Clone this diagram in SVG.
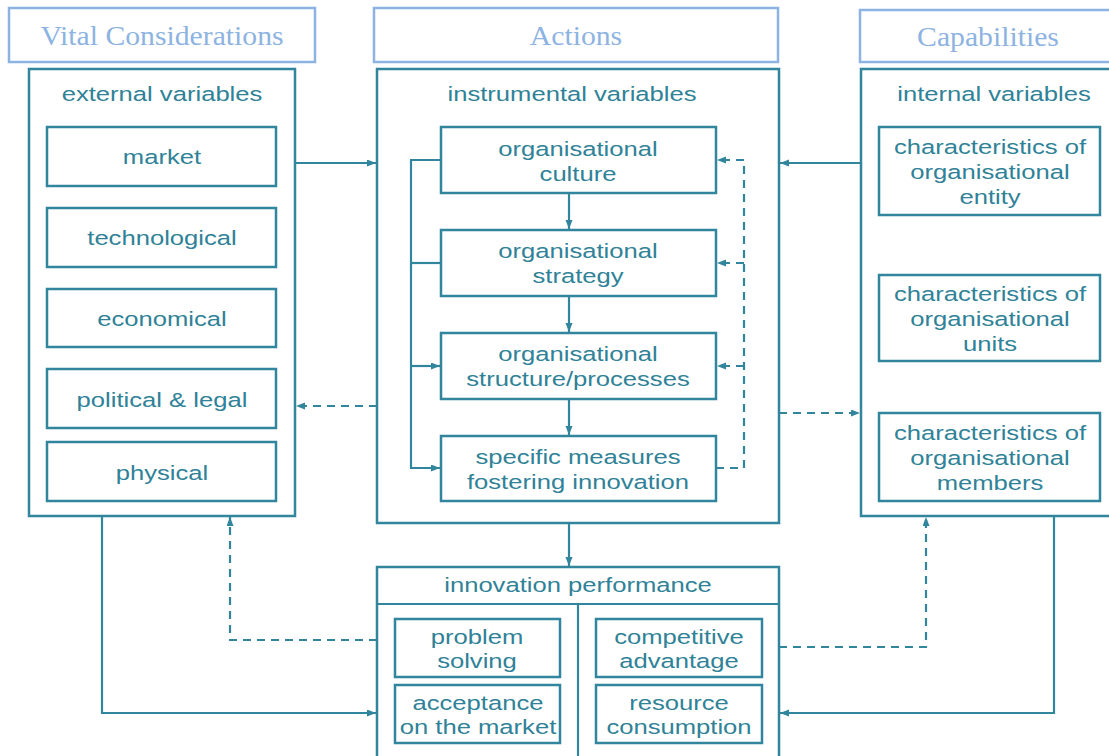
<svg xmlns="http://www.w3.org/2000/svg" width="1109" height="756" viewBox="0 0 1109 756">
<style>
.title{fill:none;stroke:#8DB3E2;stroke-width:2.5}
.tt{font-family:"Liberation Serif","Times New Roman",serif;font-size:27px;fill:#8DB3E2;text-anchor:middle}
.box{fill:#fff;stroke:#31859C;stroke-width:2.5}
.t{font-family:"Liberation Sans",Arial,sans-serif;font-size:20.5px;fill:#2F8297;text-anchor:middle}
.c{fill:none;stroke:#31859C;stroke-width:2.2}
.d{fill:none;stroke:#31859C;stroke-width:2.2;stroke-dasharray:8 6}
</style>
<defs>
<marker id="ah" markerUnits="userSpaceOnUse" markerWidth="10" markerHeight="8" refX="9" refY="3.5" orient="auto">
<path d="M0,0 L9,3.5 L0,7 z" fill="#31859C"/>
</marker>
</defs>
<rect width="1109" height="756" fill="#fff"/>

<g id="title-vital">
<rect class="title" x="9" y="8" width="306" height="54"/>
<text class="tt" transform="translate(162 45) scale(1.1 1)">Vital Considerations</text>
</g>
<g id="title-actions">
<rect class="title" x="374" y="8" width="404" height="54"/>
<text class="tt" transform="translate(576 45) scale(1.1 1)">Actions</text>
</g>
<g id="title-capabilities">
<rect class="title" x="860" y="10" width="260" height="52"/>
<text class="tt" transform="translate(988 46) scale(1.1 1)">Capabilities</text>
</g>

<g id="external">
<rect class="box" x="29" y="69" width="266" height="447"/>
<text class="t" transform="translate(162 101) scale(1.25 1)">external variables</text>
</g>
<g id="market"><rect class="box" x="47" y="127" width="229" height="59"/><text class="t" transform="translate(162 164) scale(1.25 1)">market</text></g>
<g id="technological"><rect class="box" x="47" y="208" width="229" height="59"/><text class="t" transform="translate(162 245) scale(1.25 1)">technological</text></g>
<g id="economical"><rect class="box" x="47" y="289" width="229" height="58"/><text class="t" transform="translate(162 326) scale(1.25 1)">economical</text></g>
<g id="political"><rect class="box" x="47" y="369" width="229" height="59"/><text class="t" transform="translate(162 407) scale(1.25 1)">political &amp; legal</text></g>
<g id="physical"><rect class="box" x="47" y="442" width="229" height="59"/><text class="t" transform="translate(162 480) scale(1.25 1)">physical</text></g>

<g id="instrumental">
<rect class="box" x="377" y="69" width="402" height="454"/>
<text class="t" transform="translate(572 101) scale(1.25 1)">instrumental variables</text>
</g>
<g id="culture"><rect class="box" x="441" y="127" width="275" height="66"/><text class="t" transform="translate(578 156) scale(1.25 1)"><tspan x="0">organisational</tspan><tspan x="0" dy="25">culture</tspan></text></g>
<g id="strategy"><rect class="box" x="441" y="230" width="275" height="66"/><text class="t" transform="translate(578 258) scale(1.25 1)"><tspan x="0">organisational</tspan><tspan x="0" dy="25">strategy</tspan></text></g>
<g id="structure"><rect class="box" x="441" y="333" width="275" height="66"/><text class="t" transform="translate(578 361) scale(1.25 1)"><tspan x="0">organisational</tspan><tspan x="0" dy="25">structure/processes</tspan></text></g>
<g id="measures"><rect class="box" x="441" y="436" width="275" height="65"/><text class="t" transform="translate(578 464) scale(1.25 1)"><tspan x="0">specific measures</tspan><tspan x="0" dy="25">fostering innovation</tspan></text></g>

<g id="internal">
<rect class="box" x="861" y="69" width="260" height="447"/>
<text class="t" transform="translate(994 101) scale(1.25 1)">internal variables</text>
</g>
<g id="entity"><rect class="box" x="879" y="127" width="221" height="88"/><text class="t" transform="translate(990 154) scale(1.25 1)"><tspan x="0">characteristics of</tspan><tspan x="0" dy="25">organisational</tspan><tspan x="0" dy="25">entity</tspan></text></g>
<g id="units"><rect class="box" x="879" y="275" width="221" height="86"/><text class="t" transform="translate(990 301) scale(1.25 1)"><tspan x="0">characteristics of</tspan><tspan x="0" dy="25">organisational</tspan><tspan x="0" dy="25">units</tspan></text></g>
<g id="members"><rect class="box" x="879" y="413" width="221" height="88"/><text class="t" transform="translate(990 440) scale(1.25 1)"><tspan x="0">characteristics of</tspan><tspan x="0" dy="25">organisational</tspan><tspan x="0" dy="25">members</tspan></text></g>

<g id="performance">
<rect class="box" x="377" y="567" width="402" height="210"/>
<line class="c" x1="377" y1="604" x2="779" y2="604" stroke-width="2.5"/>
<line class="c" x1="578" y1="604" x2="578" y2="760" stroke-width="2.5"/>
<text class="t" transform="translate(578 592) scale(1.25 1)">innovation performance</text>
</g>
<g id="problem"><rect class="box" x="395" y="619" width="165" height="58"/><text class="t" transform="translate(477 644) scale(1.25 1)"><tspan x="0">problem</tspan><tspan x="0" dy="24">solving</tspan></text></g>
<g id="acceptance"><rect class="box" x="395" y="685" width="165" height="58"/><text class="t" transform="translate(478 710) scale(1.25 1)"><tspan x="0">acceptance</tspan><tspan x="0" dy="24">on the market</tspan></text></g>
<g id="competitive"><rect class="box" x="596" y="619" width="166" height="58"/><text class="t" transform="translate(679 644) scale(1.25 1)"><tspan x="0">competitive</tspan><tspan x="0" dy="24">advantage</tspan></text></g>
<g id="resource"><rect class="box" x="596" y="685" width="166" height="58"/><text class="t" transform="translate(679 710) scale(1.25 1)"><tspan x="0">resource</tspan><tspan x="0" dy="24">consumption</tspan></text></g>

<g id="connectors">
<line class="c" x1="295" y1="163" x2="376" y2="163" marker-end="url(#ah)"/>
<line class="c" x1="861" y1="163" x2="780" y2="163" marker-end="url(#ah)"/>
<line class="d" x1="377" y1="406" x2="296" y2="406" marker-end="url(#ah)"/>
<line class="d" x1="779" y1="413" x2="860" y2="413" marker-end="url(#ah)"/>
<line class="c" x1="569" y1="523" x2="569" y2="566" marker-end="url(#ah)"/>
<polyline class="c" points="102,516 102,713 376,713" marker-end="url(#ah)"/>
<polyline class="c" points="1054,516 1054,713 780,713" marker-end="url(#ah)"/>
<polyline class="d" points="377,640 230,640 230,517" marker-end="url(#ah)"/>
<polyline class="d" points="779,647 926,647 926,517" marker-end="url(#ah)"/>
<line class="c" x1="569" y1="193" x2="569" y2="229" marker-end="url(#ah)"/>
<line class="c" x1="569" y1="296" x2="569" y2="332" marker-end="url(#ah)"/>
<line class="c" x1="569" y1="399" x2="569" y2="435" marker-end="url(#ah)"/>
<polyline class="c" points="441,160 411,160 411,468 440,468" marker-end="url(#ah)"/>
<line class="c" x1="411" y1="263" x2="441" y2="263"/>
<line class="c" x1="411" y1="366" x2="440" y2="366" marker-end="url(#ah)"/>
<polyline class="d" points="716,468 744,468 744,160 717,160" marker-end="url(#ah)"/>
<line class="d" x1="744" y1="263" x2="717" y2="263" marker-end="url(#ah)"/>
<line class="d" x1="744" y1="366" x2="717" y2="366" marker-end="url(#ah)"/>
</g>
</svg>
